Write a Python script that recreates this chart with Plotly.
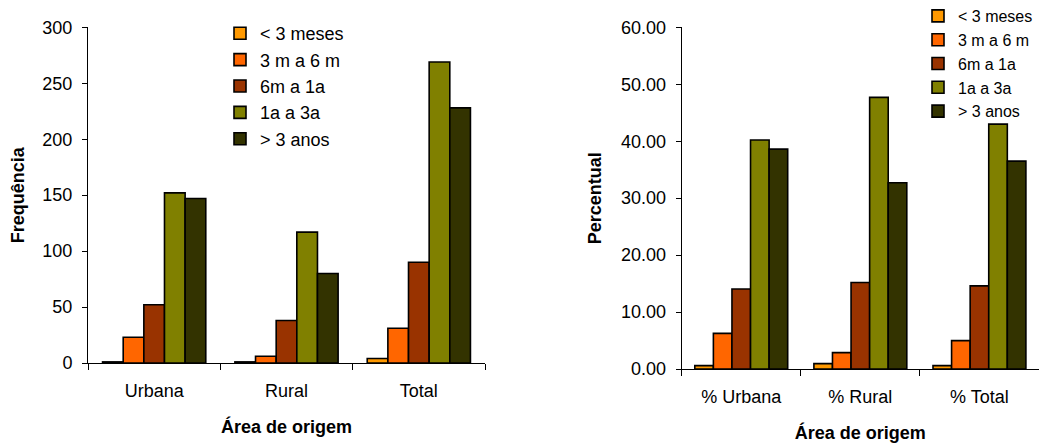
import plotly.graph_objects as go

series = ["< 3 meses", "3 m a 6 m", "6m a 1a", "1a a 3a", "> 3 anos"]
colors = ["#FF9900", "#FF6600", "#993300", "#808000", "#333300"]

freq_categories = ["Urbana", "Rural", "Total"]
freq_values = {
    "< 3 meses": [1, 1, 4],
    "3 m a 6 m": [23, 6, 31],
    "6m a 1a": [52, 38, 90],
    "1a a 3a": [152, 117, 269],
    "> 3 anos": [147, 80, 228],
}

pct_categories = ["% Urbana", "% Rural", "% Total"]
pct_values = {
    "< 3 meses": [0.59, 0.94, 0.60],
    "3 m a 6 m": [6.26, 2.87, 4.98],
    "6m a 1a": [14.05, 15.2, 14.6],
    "1a a 3a": [40.2, 47.7, 43.0],
    "> 3 anos": [38.6, 32.7, 36.5],
}

FONT = "Liberation Sans, Arial, sans-serif"
W, H = 1055, 443
OFF = 8  # page body margin offset

fig = go.Figure()
for name, col in zip(series, colors):
    fig.add_trace(go.Bar(
        x=freq_categories, y=freq_values[name], name=name,
        marker=dict(color=col, line=dict(color="black", width=1.6)),
        xaxis="x", yaxis="y", legend="legend",
    ))
for name, col in zip(series, colors):
    fig.add_trace(go.Bar(
        x=pct_categories, y=pct_values[name], name=name,
        marker=dict(color=col, line=dict(color="black", width=1.6)),
        xaxis="x2", yaxis="y2", legend="legend2",
    ))

def px_x(p):
    return (p - OFF) / W

def px_y(p):
    return (H - (p - OFF)) / H

axis_common = dict(
    showline=True, linecolor="black", linewidth=1,
    ticks="outside", tickcolor="black", tickwidth=1,
    showgrid=False, zeroline=False,
    tickfont=dict(family=FONT, size=18, color="black"),
)
title_font = dict(family=FONT, size=18, weight="bold", color="black")

fig.update_layout(
    width=W, height=H, autosize=False,
    margin=dict(l=0, r=0, t=0, b=0, autoexpand=False),
    paper_bgcolor="white", plot_bgcolor="white",
    barmode="group", bargap=0.22, bargroupgap=0,
    font=dict(family=FONT, size=18, color="black"),
    xaxis=dict(
        domain=[px_x(88), px_x(485)], anchor="y",
        tickson="boundaries", ticklen=6, ticklabelstandoff=11,
        title=dict(text="Área de origem", standoff=20, font=title_font),
        **axis_common,
    ),
    yaxis=dict(
        domain=[px_y(363), px_y(27.3)], anchor="x",
        range=[0, 300], dtick=50, ticklen=5, ticklabelstandoff=6,
        title=dict(text="Frequência", standoff=13, font=title_font),
        **axis_common,
    ),
    xaxis2=dict(
        domain=[px_x(681.7), px_x(1039)], anchor="y2",
        tickson="boundaries", ticklen=6, ticklabelstandoff=11,
        title=dict(text="Área de origem", standoff=20, font=title_font),
        **axis_common,
    ),
    yaxis2=dict(
        domain=[px_y(369), px_y(27.3)], anchor="x2",
        range=[0, 60], dtick=10, tickformat=".2f", ticklen=5, ticklabelstandoff=6,
        title=dict(text="Percentual", standoff=14, font=title_font),
        **axis_common,
    ),
    legend=dict(
        x=212 / W, y=(H - 7) / H, xanchor="left", yanchor="top",
        font=dict(family=FONT, size=18, color="black"),
        bgcolor="rgba(0,0,0,0)", borderwidth=0, itemwidth=30,
        tracegroupgap=0,
    ),
    legend2=dict(
        x=910 / W, y=(H + 9) / H, xanchor="left", yanchor="top",
        font=dict(family=FONT, size=16, color="black"),
        bgcolor="rgba(0,0,0,0)", borderwidth=0, itemwidth=30,
        tracegroupgap=0,
    ),
    showlegend=True,
)

fig.write_html("out.html")
